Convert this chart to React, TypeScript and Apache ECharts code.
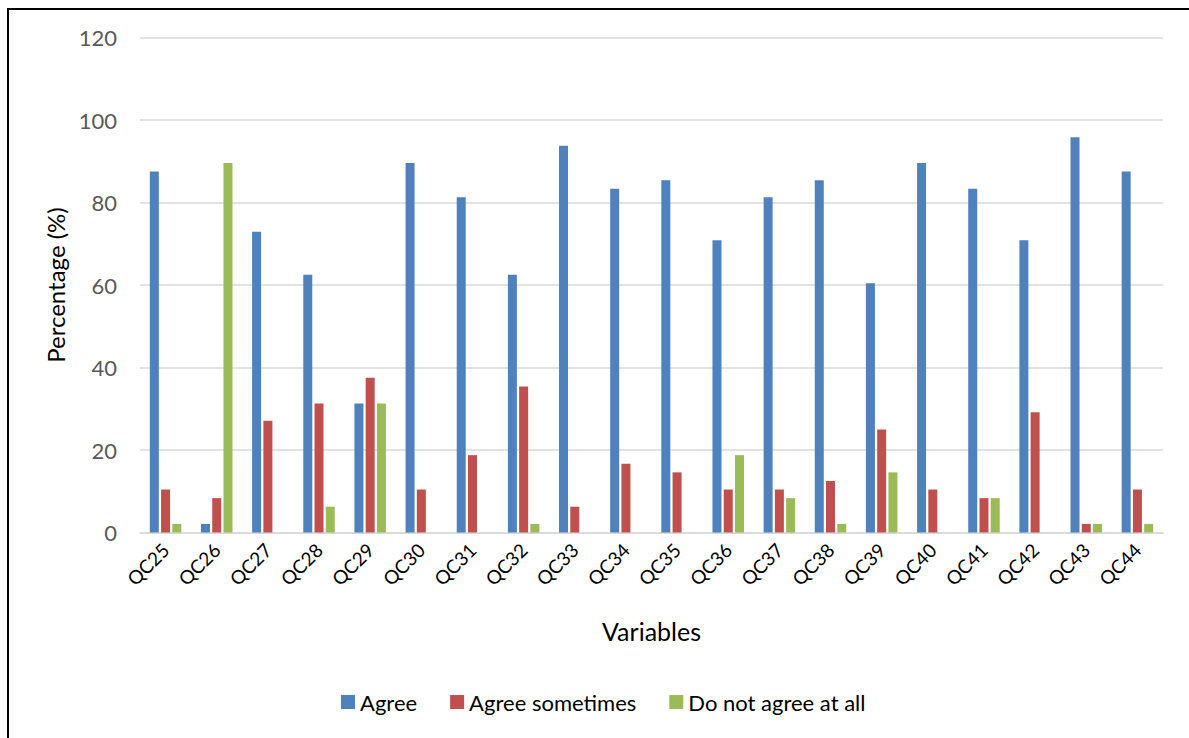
import React, { useEffect, useRef } from "react";
import * as echarts from "echarts";

const categories = [
  "QC25", "QC26", "QC27", "QC28", "QC29", "QC30", "QC31", "QC32", "QC33", "QC34",
  "QC35", "QC36", "QC37", "QC38", "QC39", "QC40", "QC41", "QC42", "QC43", "QC44",
];
const agree = [
  87.5, 2.08, 72.92, 62.5, 31.25, 89.58, 81.25, 62.5, 93.75, 83.33,
  85.42, 70.83, 81.25, 85.42, 60.42, 89.58, 83.33, 70.83, 95.83, 87.5,
];
const agreeSometimes = [
  10.42, 8.33, 27.08, 31.25, 37.5, 10.42, 18.75, 35.42, 6.25, 16.67,
  14.58, 10.42, 10.42, 12.5, 25, 10.42, 8.33, 29.17, 2.08, 10.42,
];
const notAgree = [
  2.08, 89.58, 0, 6.25, 31.25, 0, 0, 2.08, 0, 0,
  0, 18.75, 8.33, 2.08, 14.58, 0, 8.33, 0, 2.08, 2.08,
];
const seriesNames = ["Agree", "Agree sometimes", "Do not agree at all"];
const colors = ["#4F81BD", "#C0504D", "#9BBB59"];

export default function App() {
  const ref = useRef<HTMLDivElement>(null);
  useEffect(() => {
    if (!ref.current) return;
    const chart = echarts.init(ref.current, undefined, { renderer: "svg" });
    const font = "Lato, 'Open Sans', sans-serif";
    const data = [agree, agreeSometimes, notAgree];
    chart.setOption({
      animation: false,
      textStyle: { fontFamily: font },
      grid: { left: 140, right: 26, top: 37.5, bottom: 205.5, containLabel: false },
      legend: {
        data: seriesNames,
        left: 336,
        top: 686,
        itemWidth: 14,
        itemHeight: 14,
        itemGap: 33,
        icon: "rect",
        textStyle: { fontSize: 22, color: "#000", fontFamily: font },
      },
      xAxis: {
        type: "category",
        data: categories,
        name: "Variables",
        nameLocation: "middle",
        nameGap: 86,
        nameTextStyle: { fontSize: 25, color: "#000", fontFamily: font },
        axisLine: { show: true, lineStyle: { color: "#D9D9D9", width: 1.5 } },
        axisTick: { show: false },
        axisLabel: { rotate: 45, fontSize: 19, color: "#000", margin: 14, fontFamily: font, interval: 0 },
      },
      yAxis: {
        type: "value",
        min: 0,
        max: 120,
        interval: 20,
        name: "Percentage (%)",
        nameLocation: "middle",
        nameGap: 73,
        nameRotate: 90,
        nameTextStyle: { fontSize: 24, color: "#000", fontFamily: font },
        axisLine: { show: false },
        axisTick: { show: false },
        axisLabel: { fontSize: 22, color: "#595959", margin: 23, fontFamily: font },
        splitLine: { lineStyle: { color: "#D9D9D9", width: 1.5 } },
      },
      series: seriesNames.map((name, i) => ({
        name,
        type: "bar",
        data: data[i],
        barWidth: 9,
        barGap: "25%",
        itemStyle: { color: colors[i] },
      })),
    });
    return () => chart.dispose();
  }, []);
  return (
    <>
      <div
        ref={ref}
        style={{ position: "fixed", left: 0, top: 0, width: 1189, height: 738, background: "#fff" }}
      />
      <div
        style={{
          position: "fixed",
          left: 7,
          top: 8,
          width: 1300,
          height: 900,
          border: "2px solid #000",
          pointerEvents: "none",
        }}
      />
    </>
  );
}
